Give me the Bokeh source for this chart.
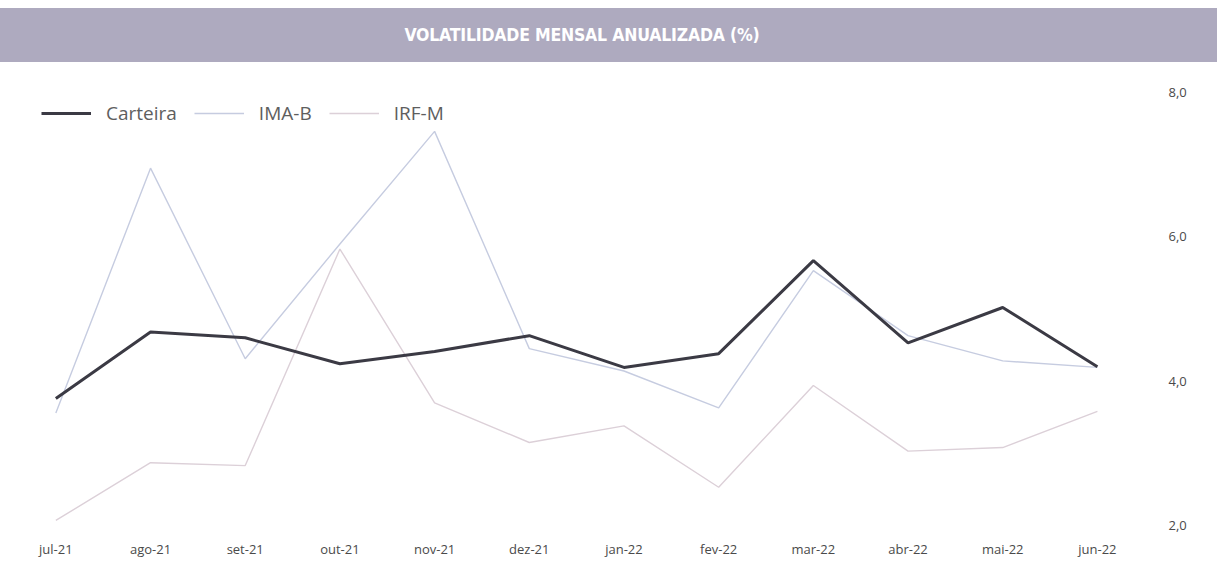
from bokeh.plotting import figure
from bokeh.models import (Range1d, LinearAxis, FixedTicker, Legend, LegendItem, Div)
from bokeh.layouts import column
from bokeh.embed import file_html
from bokeh.resources import INLINE

# ---- data ----
months = ["jul-21", "ago-21", "set-21", "out-21", "nov-21", "dez-21",
          "jan-22", "fev-22", "mar-22", "abr-22", "mai-22", "jun-22"]
carteira = [3.76, 4.68, 4.60, 4.24, 4.41, 4.63, 4.19, 4.38, 5.67, 4.53, 5.02, 4.20]
ima_b = [3.56, 6.95, 4.31, 5.90, 7.46, 4.45, 4.14, 3.63, 5.53, 4.63, 4.28, 4.19]
irf_m = [2.07, 2.87, 2.83, 5.83, 3.70, 3.15, 3.38, 2.53, 3.94, 3.03, 3.08, 3.58]
y_ticks = [2, 4, 6, 8]
y_tick_labels = ["2,0", "4,0", "6,0", "8,0"]
title_text = "VOLATILIDADE MENSAL ANUALIZADA (%)"

x = list(range(len(months)))

header = Div(
    text=f'<div style="width:1217px;height:63px;background:#ffffff;padding-top:8px;box-sizing:border-box;">'
         f'<div style="width:1217px;height:54px;background:#aeaabf;color:#ffffff;'
         f'font-family:\'DejaVu Sans Condensed\';font-weight:bold;font-size:17.5px;'
         f'display:flex;align-items:center;justify-content:center;letter-spacing:-0.2px;'
         f'padding-right:53px;box-sizing:border-box;">{title_text}</div></div>',
    width=1217, height=63, margin=(0, 0, 0, 0))

p = figure(width=1217, height=505, output_backend="svg", toolbar_location=None,
           x_range=Range1d(-0.5, 11.55), y_range=Range1d(2, 8.4),
           x_axis_location=None, y_axis_location=None,
           min_border_left=8, min_border_right=68, min_border_top=0, min_border_bottom=43,
           background_fill_color="white", border_fill_color="white", margin=(0, 0, 0, 0))
p.outline_line_color = None
p.xgrid.visible = False
p.ygrid.visible = False

r_ima = p.line(x, ima_b, line_color="#c6cce0", line_width=1.4)
r_irf = p.line(x, irf_m, line_color="#dcd0d8", line_width=1.4)
r_cart = p.line(x, carteira, line_color="#3b3a44", line_width=3)

xaxis = LinearAxis(ticker=FixedTicker(ticks=x),
                   major_label_overrides={i: m for i, m in zip(x, months)})
xaxis.axis_line_color = None
xaxis.major_tick_line_color = None
xaxis.minor_tick_line_color = None
xaxis.major_label_standoff = 8
xaxis.major_label_text_font = "Open Sans"
xaxis.major_label_text_font_size = "13px"
xaxis.major_label_text_color = "#4a4a4a"
p.add_layout(xaxis, "below")

yaxis = LinearAxis(ticker=FixedTicker(ticks=y_ticks),
                   major_label_overrides={t: l for t, l in zip(y_ticks, y_tick_labels)})
yaxis.axis_line_color = None
yaxis.major_tick_line_color = None
yaxis.minor_tick_line_color = None
yaxis.major_label_standoff = 13
yaxis.major_label_text_font = "Open Sans"
yaxis.major_label_text_font_size = "13px"
yaxis.major_label_text_color = "#4a4a4a"
yaxis.major_label_text_align = "left"
p.add_layout(yaxis, "right")

legend = Legend(items=[LegendItem(label="Carteira", renderers=[r_cart]),
                       LegendItem(label="IMA-B", renderers=[r_ima]),
                       LegendItem(label="IRF-M", renderers=[r_irf])],
                orientation="horizontal", location=(33, 399),
                glyph_width=50, glyph_height=24, label_standoff=15, spacing=17,
                padding=4, border_line_color=None, background_fill_alpha=0,
                label_text_font="Open Sans", label_text_font_size="19px",
                label_text_color="#5e5e5e")
p.add_layout(legend, "center")

layout = column(header, p, spacing=0)
open("out.html", "w").write(file_html(layout, INLINE))
